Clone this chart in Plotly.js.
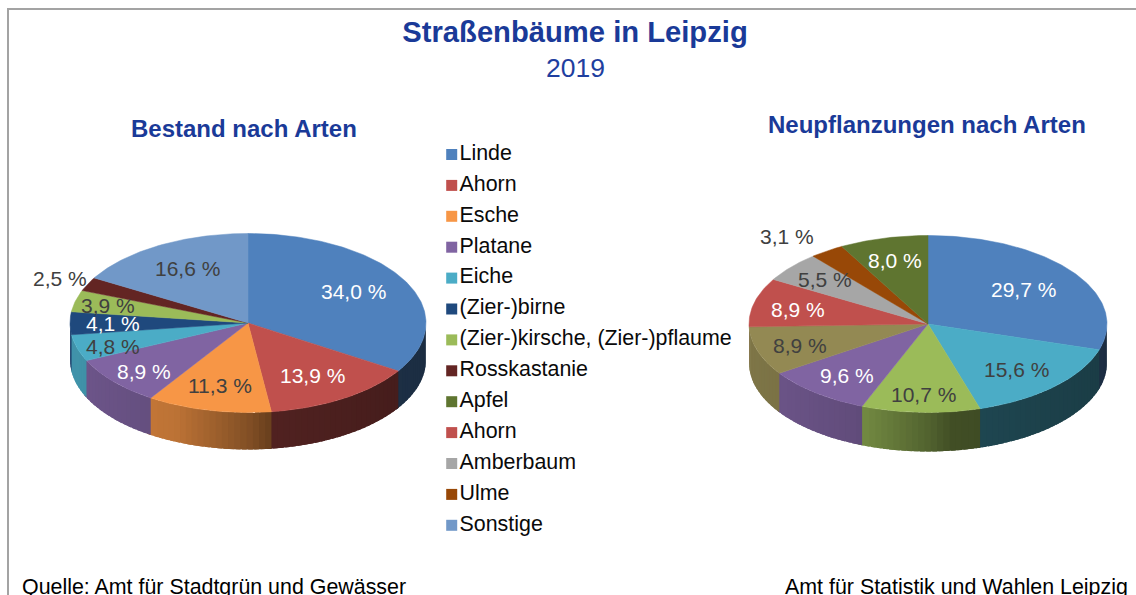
<!DOCTYPE html>
<html>
<head>
<meta charset="utf-8">
<script src="https://cdn.plot.ly/plotly-3.0.1.min.js"></script>
<style>html,body{margin:0;padding:0;background:#fff;overflow:hidden}#chart{width:1136px;height:595px}</style>
</head>
<body>
<div id="chart"></div>
<script>
// ---------- data ----------
const legendNames = ['Linde','Ahorn','Esche','Platane','Eiche','(Zier-)birne','(Zier-)kirsche, (Zier-)pflaume','Rosskastanie','Apfel','Ahorn','Amberbaum','Ulme','Sonstige'];
const legendColors = ['#4F81BD','#C0504D','#F79646','#8064A2','#4BACC6','#1F497D','#9BBB59','#632523','#5F7530','#C0504D','#A6A6A6','#984807','#7198C8'];

const bestandNames = ['Linde','Ahorn','Esche','Platane','Eiche','(Zier-)birne','(Zier-)kirsche, (Zier-)pflaume','Rosskastanie','Sonstige'];
const bestandValues = [34.0,13.9,11.3,8.9,4.8,4.1,3.9,2.5,16.6];
const bestandColors = ['#4F81BD','#C0504D','#F79646','#8064A2','#4BACC6','#1F497D','#9BBB59','#632523','#7198C8'];
const bestandTextColors = ['#fff','#fff','#404040','#fff','#404040','#fff','#404040','#404040','#404040'];
const bestandLabelPx = [[354,291],[312,375],[220,385],[144,371],[113,346],[113,323],[108,305],[60,278],[187,269]];

const neuNames = ['Linde','Eiche','(Zier-)kirsche, (Zier-)pflaume','Platane','','Ahorn','Amberbaum','Ulme','Apfel'];
const neuValues = [29.7,15.6,10.7,9.6,8.9,8.9,5.5,3.1,8.0];
const neuColors = ['#4F81BD','#4BACC6','#9BBB59','#8064A2','#938953','#C0504D','#A6A6A6','#984807','#5F7530'];
const neuTextColors = ['#fff','#404040','#404040','#fff','#404040','#fff','#404040','#404040','#fff'];
const neuLabelPx = [[1023,289],[1016,369],[923,394],[847,375],[800,345],[798,309],[825,279],[787,237],[895,260]];

// ---------- layout constants (pixels) ----------
const W = 1136, H = 595;
const FONT = '"Liberation Sans", Arial, sans-serif';
const leftPie  = {cx:248, cy:323, rx:178, ry:89.5, depth:37, xa:'x',  ya:'y',  pxL:0,   pxR:500};
const rightPie = {cx:928, cy:324, rx:179, ry:88.5, depth:39, xa:'x2', ya:'y2', pxL:682, pxR:1136};

function shade(hex, f){
  const n = parseInt(hex.slice(1),16);
  const c = [n>>16&255, n>>8&255, n&255].map(v=>Math.round(v*f));
  return `rgb(${c[0]},${c[1]},${c[2]})`;
}
// wall darkening by horizontal position (-1 left ... 1 right)
function wallFactor(s){
  const pts = [[-1,.86],[-.4,.76],[0,.53],[.13,.42],[1,.35]];
  for(let i=1;i<pts.length;i++){
    if(s<=pts[i][0]){
      const a=pts[i-1],b=pts[i];
      return a[1]+(b[1]-a[1])*(s-a[0])/(b[0]-a[0]);
    }
  }
  return .35;
}
const rad = d => d*Math.PI/180;

function pieTraces(values, colors, names, p){
  const total = values.reduce((a,b)=>a+b,0);
  const walls = [], tops = [];
  const dy = p.depth/p.ry;
  let acc = 0;
  values.forEach((v,i)=>{
    const t0 = acc/total*360, t1 = (acc+v)/total*360;
    acc += v;
    // top face
    const xs=[0], ys=[0];
    for(let t=t0;;t+=1){
      const tt=Math.min(t,t1);
      xs.push(Math.sin(rad(tt))); ys.push(Math.cos(rad(tt)));
      if(tt>=t1)break;
    }
    xs.push(0); ys.push(0);
    tops.push({type:'scatter',mode:'lines',x:xs,y:ys,xaxis:p.xa,yaxis:p.ya,fill:'toself',
      fillcolor:colors[i],line:{color:colors[i],width:.5},name:names[i],showlegend:false,hoverinfo:'skip'});
    // side wall, in narrow overlapping strips for the shading; later strips paint over earlier ones
    const a0=Math.max(t0,90), a1=Math.min(t1,270);
    for(let a=a0;a<a1;a+=2){
      const b=Math.min(a+2,a1);
      const e=Math.min(b+1.5,270);
      const sx=[],sy=[];
      for(let t=a;;t+=.5){const tt=Math.min(t,e);sx.push(Math.sin(rad(tt)));sy.push(Math.cos(rad(tt)));if(tt>=e)break;}
      const bx=sx.slice().reverse(), by=sy.slice().reverse().map(y=>y-dy);
      const col=shade(colors[i],wallFactor(Math.sin(rad((a+b)/2))));
      walls.push({type:'scatter',mode:'lines',x:sx.concat(bx,[sx[0]]),y:sy.concat(by,[sy[0]]),xaxis:p.xa,yaxis:p.ya,
        fill:'toself',fillcolor:col,line:{width:0},showlegend:false,hoverinfo:'skip',name:names[i]});
    }
  });
  return walls.concat(tops);
}

function pieAxis(p){
  const base={visible:false,fixedrange:true,showgrid:false,zeroline:false};
  return {
    x:{...base,domain:[p.pxL/W,p.pxR/W],range:[(p.pxL-p.cx)/p.rx,(p.pxR-p.cx)/p.rx]},
    y:{...base,domain:[0,1],range:[(p.cy-H)/p.ry,p.cy/p.ry]}
  };
}
const fmt = v => v.toFixed(1).replace('.',',')+' %';
const txt = (text,px,py,size,color,extra) => Object.assign({
  text,x:px/W,y:1-py/H,xref:'paper',yref:'paper',xanchor:'center',yanchor:'middle',showarrow:false,
  font:{family:FONT,size,color}},extra||{});

const legendTrace = {
  type:'scatter',mode:'markers+text',xaxis:'x3',yaxis:'y3',
  x:legendNames.map(()=>0.07),y:legendNames.map((_,i)=>i),
  text:legendNames,textposition:'middle right',cliponaxis:false,
  textfont:{family:FONT,size:21.4,color:'#0a0a0a'},
  marker:{symbol:'square',size:11,color:legendColors},
  hoverinfo:'skip',showlegend:false
};

const annotations = [
  txt('2019',575,68,26.5,'#1F3F9F'),
  txt('<b>Bestand nach Arten</b>',244,128,24,'#1A3A98'),
  txt('<b>Neupflanzungen nach Arten</b>',927,124,24,'#1A3A98'),
  txt('Quelle: Amt für Stadtgrün und Gewässer',20,587,21.4,'#000',{xanchor:'left'}),
  txt('Amt für Statistik und Wahlen Leipzig',1130,587,21.4,'#000',{xanchor:'right'})
];
bestandValues.forEach((v,i)=>annotations.push(txt(fmt(v),bestandLabelPx[i][0],bestandLabelPx[i][1],21,bestandTextColors[i])));
neuValues.forEach((v,i)=>annotations.push(txt(fmt(v),neuLabelPx[i][0],neuLabelPx[i][1],21,neuTextColors[i])));

const la = pieAxis(leftPie), ra = pieAxis(rightPie);
const layout = {
  width:W,height:H,margin:{l:0,r:0,t:0,b:0,pad:0},
  paper_bgcolor:'#fff',plot_bgcolor:'rgba(0,0,0,0)',showlegend:false,
  title:{text:'<b>Straßenbäume in Leipzig</b>',x:575/W,xanchor:'center',xref:'paper',y:1-32/H,yanchor:'middle',yref:'paper',
    font:{family:FONT,size:29.2,color:'#1A3A98'}},
  xaxis:la.x,yaxis:la.y,
  xaxis2:{...ra.x,anchor:'y2'},yaxis2:{...ra.y,anchor:'x2'},
  xaxis3:{visible:false,fixedrange:true,domain:[430/W,760/W],range:[0,330/310],anchor:'y3'},
  yaxis3:{visible:false,fixedrange:true,domain:[1-540.75/H,1-139.05/H],range:[12.5,-0.5],anchor:'x3'},
  annotations,
  shapes:[
    {type:'line',xref:'paper',yref:'paper',x0:8/W,x1:8/W,y0:0,y1:1-9/H,line:{color:'#A3A3A3',width:2}},
    {type:'line',xref:'paper',yref:'paper',x0:7/W,x1:1,y0:1-9/H,y1:1-9/H,line:{color:'#A3A3A3',width:2}}
  ]
};
const traces = pieTraces(bestandValues,bestandColors,bestandNames,leftPie)
  .concat(pieTraces(neuValues,neuColors,neuNames,rightPie),[legendTrace]);
Plotly.newPlot('chart',traces,layout,{displayModeBar:false,staticPlot:true});
</script>
</body>
</html>
